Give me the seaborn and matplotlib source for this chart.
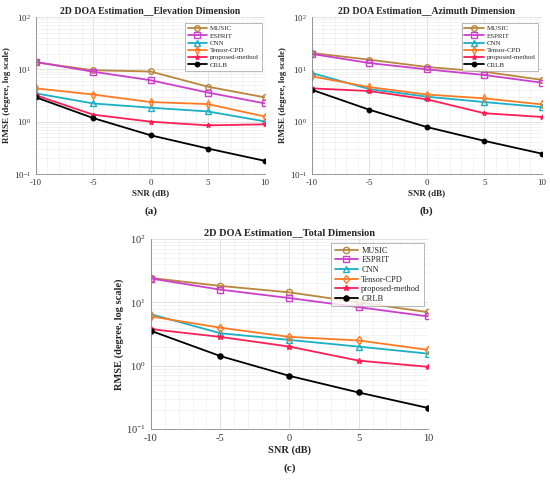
import numpy as np
import pandas as pd
import matplotlib
matplotlib.use("Agg")
import matplotlib.pyplot as plt
import seaborn as sns

snr = [-10, -5, 0, 5, 10]
methods = ["MUSIC", "ESPRIT", "CNN", "Tensor-CPD", "proposed-method", "CRLB"]

# Elevation
elev_music = [13.6, 9.6, 9.1, 4.66, 2.91]
elev_esprit = [13.8, 9.0, 6.2, 3.6, 2.23]
elev_cnn = [3.47, 2.23, 1.85, 1.57, 1.01]
elev_tcpd = [4.33, 3.3, 2.37, 2.17, 1.25]
elev_prop = [3.18, 1.36, 1.0, 0.85, 0.89]
elev_crlb = [2.91, 1.17, 0.55, 0.307, 0.178]

# Azimuth
azi_music = [20.5, 15.3, 11.1, 9.0, 6.3]
azi_esprit = [19.7, 13.2, 10.0, 7.8, 5.56]
azi_cnn = [8.5, 4.2, 3.0, 2.37, 1.9]
azi_tcpd = [7.35, 4.58, 3.3, 2.79, 2.14]
azi_prop = [4.33, 3.85, 2.67, 1.45, 1.23]
azi_crlb = [4.07, 1.69, 0.79, 0.43, 0.245]

# Total
tot_music = [24.3, 18.2, 14.4, 10.0, 7.0]
tot_esprit = [23.8, 15.9, 11.7, 8.4, 6.0]
tot_cnn = [6.5, 3.26, 2.55, 2.0, 1.55]
tot_tcpd = [6.0, 3.98, 2.85, 2.5, 1.78]
tot_prop = [3.78, 2.85, 2.0, 1.2, 0.96]
tot_crlb = [3.55, 1.42, 0.69, 0.377, 0.215]

titles = ["2D DOA Estimation__Elevation Dimension",
          "2D DOA Estimation__Azimuth Dimension",
          "2D DOA Estimation__Total Dimension"]
captions = ["(a)", "(b)", "(c)"]

sns.set_theme(style="white")
plt.rcParams["font.family"] = ["Liberation Serif", "DejaVu Serif"]
plt.rcParams["mathtext.fontset"] = "stix"

colors = ["#B8863C", "#CC3FCC", "#1AAFC4", "#FF7A22", "#FF1F55", "#000000"]
markers = ["o", "s", "^", "d", "*", "o"]
mfc = ["none", "none", "none", "none", None, None]
msz = [4, 4, 4, 4, 3.5, 3.2]

def make_df(series):
    rows = []
    for m, vals in zip(methods, series):
        for s, v in zip(snr, vals):
            rows.append({"SNR": s, "RMSE": v, "Method": m})
    return pd.DataFrame(rows)

fig = plt.figure(figsize=(5.5, 4.82), dpi=100)
ax_a = fig.add_axes([0.0655, 0.639, 0.4164, 0.3257])
ax_b = fig.add_axes([0.567, 0.639, 0.418, 0.3257])
ax_c = fig.add_axes([0.2745, 0.110, 0.5036, 0.394])

datasets = [
    [elev_music, elev_esprit, elev_cnn, elev_tcpd, elev_prop, elev_crlb],
    [azi_music, azi_esprit, azi_cnn, azi_tcpd, azi_prop, azi_crlb],
    [tot_music, tot_esprit, tot_cnn, tot_tcpd, tot_prop, tot_crlb],
]

for i, (ax, series) in enumerate(zip([ax_a, ax_b, ax_c], datasets)):
    big = (i == 2)
    df = make_df(series)
    for j, m in enumerate(methods):
        sub = df[df["Method"] == m]
        kw = dict(marker=markers[j], markersize=msz[j] + (0.5 if big else 0),
                  markeredgewidth=1.0, markeredgecolor=colors[j])
        if mfc[j] == "none":
            kw["markerfacecolor"] = "none"
        else:
            kw["markerfacecolor"] = colors[j]
        sns.lineplot(data=sub, x="SNR", y="RMSE", ax=ax, color=colors[j],
                     label=m, linewidth=1.3, **kw)
    ax.set_yscale("log")
    ax.set_ylim(0.1, 100)
    ax.set_xlim(-10, 10)
    ax.set_xticks(snr)
    ax.set_xticklabels([str(s) for s in snr])
    ax.grid(True, which="major", color="#dddddd", linewidth=0.6)
    ax.grid(True, which="minor", color="#eeeeee", linewidth=0.5)
    ax.minorticks_on()
    ax.xaxis.set_minor_locator(matplotlib.ticker.MultipleLocator(1))
    for sp in ["top", "right"]:
        ax.spines[sp].set_visible(False)
    for sp in ["left", "bottom"]:
        ax.spines[sp].set_color("#888888")
        ax.spines[sp].set_linewidth(0.6)
    fs_t = 7.5 if big else 7
    fs_l = 7.5 if big else 6.5
    fs_k = 7.5 if big else 6.5
    ax.set_title(titles[i], fontsize=fs_t, fontweight="bold", pad=3)
    ax.set_xlabel("SNR (dB)", fontsize=fs_l, fontweight="bold", labelpad=2)
    ax.set_ylabel("RMSE (degree, log scale)", fontsize=fs_l, fontweight="bold", labelpad=2)
    ax.tick_params(axis="both", which="major", labelsize=fs_k, length=0, pad=3.5,
                   colors="#333333")
    ax.tick_params(axis="both", which="minor", length=0)
    leg = ax.legend(loc="upper right", fontsize=6 if big else 5, frameon=True,
                    fancybox=False, borderpad=0.4, labelspacing=0.2,
                    handlelength=2.8, handletextpad=0.4,
                    bbox_to_anchor=(1.0, 0.985) if not big else (1.0, 1.0))
    leg.get_frame().set_edgecolor("#999999")
    leg.get_frame().set_linewidth(0.6)
    ax.text(0.5, -0.236 if not big else -0.205, captions[i], transform=ax.transAxes,
            ha="center", va="center", fontsize=8, fontweight="bold")

fig.savefig("out.png", dpi=100)
